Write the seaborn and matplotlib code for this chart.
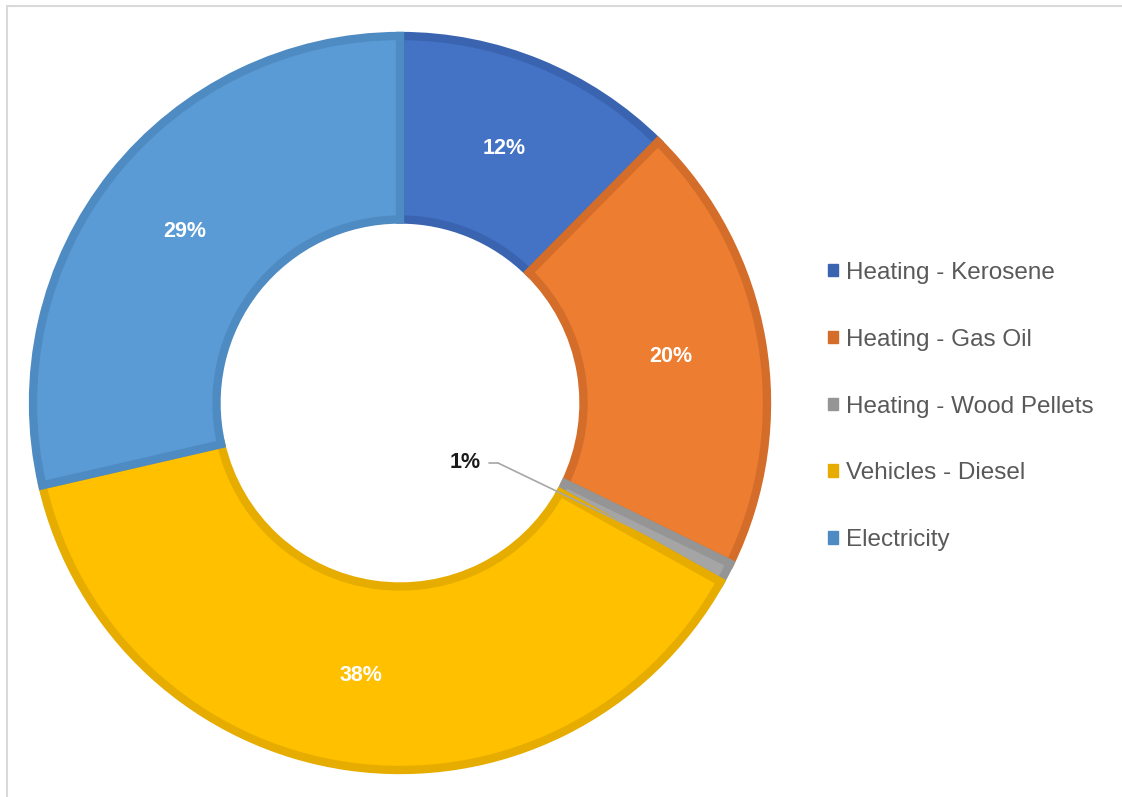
import numpy as np
import matplotlib
matplotlib.use("Agg")
import matplotlib.pyplot as plt
from matplotlib.patches import Patch
from matplotlib.lines import Line2D
import seaborn as sns

categories = ["Heating - Kerosene", "Heating - Gas Oil", "Heating - Wood Pellets",
              "Vehicles - Diesel", "Electricity"]
values = [12.4, 19.8, 0.9, 38.3, 28.6]
fill_colors = ["#4472C4", "#ED7D31", "#A5A5A5", "#FFC000", "#5B9BD5"]
edge_colors = ["#3A64B0", "#D46D2A", "#959595", "#E6AD00", "#4E8BC2"]
legend_colors = ["#3A64B0", "#D46D2A", "#959595", "#E6AD00", "#4E8BC2"]

sns.set_theme(style="white")
plt.rcParams['font.family'] = ['Liberation Sans', 'DejaVu Sans']

W, H = 1122, 797
fig = plt.figure(figsize=(W / 100, H / 100), dpi=100)
fig.patch.set_facecolor("white")

cx, cy, R = 400, 403, 367
ax = fig.add_axes([(cx - R) / W, (H - cy - R) / H, 2 * R / W, 2 * R / H])


def fmt(p):
    return "" if p < 2 else f"{p:.0f}%"


wedges, texts, autotexts = ax.pie(
    values, colors=fill_colors, startangle=90, counterclock=False, radius=1.0,
    wedgeprops=dict(width=0.5, linewidth=0), autopct=fmt, pctdistance=0.75,
    textprops=dict(color="white", fontsize=15.5, fontweight="bold"))
ax.set_xlim(-1, 1)
ax.set_ylim(-1, 1)
ax.set_aspect("equal")
ax.axis("off")

# inner strokes: draw a clipped outline for every wedge
for w, ec in zip(wedges, edge_colors):
    w.set_edgecolor(ec)
    w.set_linewidth(6.0)
    w.set_clip_path(w)

# label for the small slice with leader line
small = int(np.argmin(values))
w = wedges[small]
mid = np.deg2rad((w.theta1 + w.theta2) / 2)
end_r = 0.97
ex, ey = end_r * np.cos(mid), end_r * np.sin(mid)
lx, ly = (465 - cx) / R, (cy - 463) / R
kx = (498 - cx) / R
ax.plot([lx + 0.066, kx], [ly, ly], color="#A6A6A6", lw=1.2, zorder=5)
ax.plot([kx, ex], [ly, ey], color="#A6A6A6", lw=1.2, zorder=5)
ax.text(lx, ly, f"{values[small]:.0f}%", ha="center", va="center",
        fontsize=15.5, fontweight="bold", color="#1A1A1A")

handles = [Patch(facecolor=c, edgecolor=c) for c in legend_colors]
leg = fig.legend(handles, categories, loc="center left",
                 bbox_to_anchor=(828 / W, 1 - 406.5 / H), frameon=False,
                 fontsize=17.5, labelspacing=1.85, handlelength=0.42,
                 handleheight=0.42, handletextpad=0.3, borderpad=0,
                 borderaxespad=0)
for t in leg.get_texts():
    t.set_color("#595959")

# light frame lines (top and left)
fig.add_artist(Line2D([6.5 / W, 1], [1 - 5.5 / H, 1 - 5.5 / H],
                      transform=fig.transFigure, color="#D9D9D9", lw=1.5))
fig.add_artist(Line2D([6.5 / W, 6.5 / W], [0, 1 - 5.5 / H],
                      transform=fig.transFigure, color="#D9D9D9", lw=1.5))

fig.savefig("out.png", dpi=100, facecolor="white")
